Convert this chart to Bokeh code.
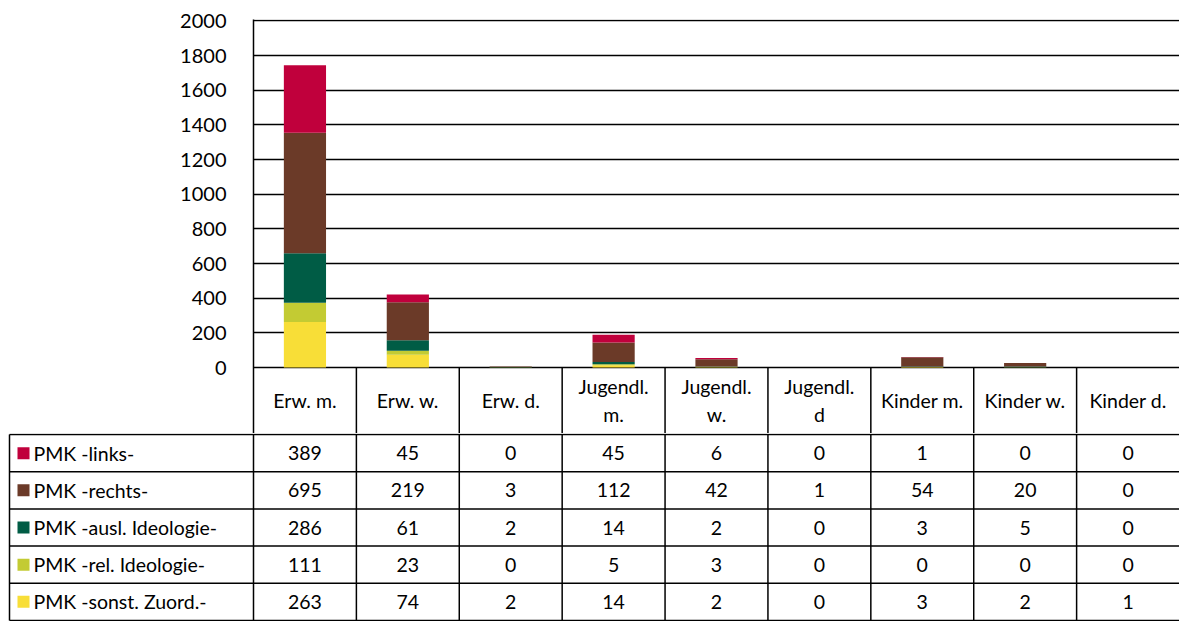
from bokeh.plotting import figure
from bokeh.models import Range1d, FixedTicker, ColumnDataSource
from bokeh.layouts import column
from bokeh.core.properties import value
from bokeh.embed import file_html
from bokeh.resources import INLINE

categories = ["Erw. m.", "Erw. w.", "Erw. d.", "Jugendl.\nm.", "Jugendl.\nw.", "Jugendl.\nd",
              "Kinder m.", "Kinder w.", "Kinder d."]
series_names = ["PMK -links-", "PMK -rechts-", "PMK -ausl. Ideologie-", "PMK -rel. Ideologie-", "PMK -sonst. Zuord.-"]
links = [389, 45, 0, 45, 6, 0, 1, 0, 0]
rechts = [695, 219, 3, 112, 42, 1, 54, 20, 0]
ausl = [286, 61, 2, 14, 2, 0, 3, 5, 0]
rel = [111, 23, 0, 5, 3, 0, 0, 0, 0]
sonst = [263, 74, 2, 14, 2, 0, 3, 2, 1]
colors = ["#C0003C", "#6B3A28", "#005C45", "#C3CB33", "#F8DE37"]
y_ticks = list(range(0, 2001, 200))

FONT = "Lato"
TFS = "19.5px"
series_values = [links, rechts, ausl, rel, sonst]
n = len(categories)
xpos = [i + 0.5 for i in range(n)]

W = 1179
AXIS_X = 253
px_unit = (W - AXIS_X) / n

# ---------------- chart + header row ----------------
hdr = 380.0  # header row height in value units below 0
pa = figure(width=W, height=433, output_backend="svg", toolbar_location=None,
            x_range=Range1d(0, n), y_range=Range1d(-hdr, 2008),
            min_border_left=AXIS_X, min_border_right=0, min_border_top=19, min_border_bottom=0,
            x_axis_location=None)
pa.frame_align = False
pa.outline_line_color = None
pa.background_fill_color = "white"
pa.border_fill_color = "white"

src = ColumnDataSource(dict(x=xpos, links=links, rechts=rechts, ausl=ausl, rel=rel, sonst=sonst))
pa.vbar_stack(["sonst", "rel", "ausl", "rechts", "links"], x="x", width=0.41, source=src,
              color=list(reversed(colors)), line_color=None)

pa.xgrid.visible = False
pa.ygrid.ticker = FixedTicker(ticks=y_ticks)
pa.ygrid.grid_line_color = "black"
pa.ygrid.grid_line_width = 1.4
pa.ygrid.level = "underlay"

ax = pa.yaxis[0]
ax.ticker = FixedTicker(ticks=y_ticks)
ax.major_tick_out = 0
ax.major_tick_in = 0
ax.minor_tick_out = 0
ax.minor_tick_in = 0
ax.axis_line_color = "black"
ax.axis_line_width = 1.5
ax.major_label_standoff = 27
ax.major_label_text_font = FONT
ax.major_label_text_font_size = "20px"
ax.major_label_text_color = "black"

# header cell borders and labels
hx = [float(i) for i in range(1, n)]
pa.segment(x0=hx, y0=[0] * len(hx), x1=hx, y1=[-hdr] * len(hx), line_color="black", line_width=1.5)
pa.text(x=xpos, y=[-hdr / 2] * n, text=categories, text_align="center", text_baseline="middle",
        text_font=value(FONT), text_font_size=TFS, text_color="black", text_line_height=1.25)

# ---------------- data table ----------------
left_edge = -(AXIS_X - 9) / px_unit
nrows = len(series_names)
pb = figure(width=W, height=188, output_backend="svg", toolbar_location=None,
            x_range=Range1d(-AXIS_X / px_unit, n), y_range=Range1d(-nrows - 0.03, 0.03),
            min_border_left=0, min_border_right=0, min_border_top=0, min_border_bottom=0,
            x_axis_location=None, y_axis_location=None)
pb.frame_align = False
pb.outline_line_color = None
pb.grid.visible = False
pb.background_fill_color = "white"
pb.border_fill_color = "white"

vx = [left_edge] + [float(i) for i in range(n)]
pb.segment(x0=vx, y0=[-nrows] * len(vx), x1=vx, y1=[0] * len(vx), line_color="black", line_width=1.5)
hy = [-float(r) for r in range(nrows + 1)]
pb.segment(x0=[left_edge] * (nrows + 1), y0=hy, x1=[n] * (nrows + 1), y1=hy,
           line_color="black", line_width=1.5)

ry = [-r - 0.5 for r in range(nrows)]
pb.scatter(x=[left_edge + 14.0 / px_unit] * nrows, y=ry, marker="square", size=12,
           fill_color=colors, line_color=None)
pb.text(x=[left_edge + 24.0 / px_unit] * nrows, y=ry, text=series_names, text_align="left",
        text_baseline="middle", text_font=value(FONT), text_font_size=TFS, text_color="black")

tx, ty, tt = [], [], []
for r, vals in enumerate(series_values):
    for i, v in enumerate(vals):
        tx.append(xpos[i])
        ty.append(ry[r])
        tt.append(str(v))
pb.text(x=tx, y=ty, text=tt, text_align="center", text_baseline="middle",
        text_font=value(FONT), text_font_size=TFS, text_color="black")

layout = column(pa, pb, spacing=0)
open("out.html", "w").write(file_html(layout, INLINE))
